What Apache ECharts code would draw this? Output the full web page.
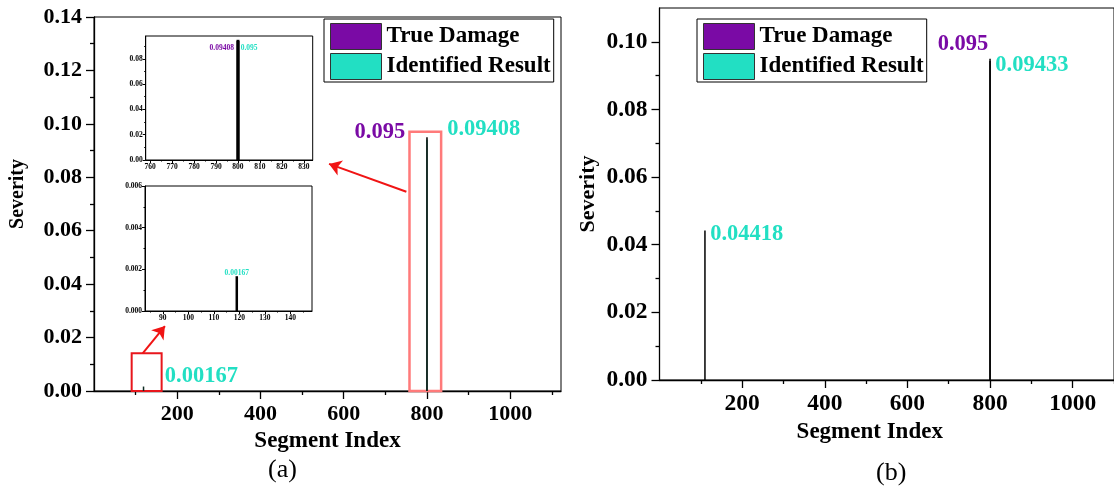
<!DOCTYPE html>
<html>
<head>
<meta charset="utf-8">
<script src="https://cdn.jsdelivr.net/npm/echarts@6/dist/echarts.min.js"></script>
<style>
  html, body { margin: 0; padding: 0; background: #fff; }
  #chart { width: 1114px; height: 493px; }
</style>
</head>
<body>
<div id="chart"></div>
<script>
// Severity at each damaged segment
const seriesNames = ['True Damage', 'Identified Result'];
const trueDamageA = [[800, 0.095]];
const identifiedA = [[119, 0.00167], [800, 0.09408]];
const trueDamageB = [[800, 0.095]];
const identifiedB = [[110, 0.04418], [800, 0.09433]];

// axis extents and ticks
const xRangeA = [0, 1122];
const xRangeB = [0, 1100];
const xTicksMain = [200, 400, 600, 800, 1000];
const xMinorMain = [100, 300, 500, 700, 900, 1100];
const yRangeA = [0, 0.14];
const yTicksA = [0, 0.02, 0.04, 0.06, 0.08, 0.10, 0.12, 0.14];
const yMinorA = [0.01, 0.03, 0.05, 0.07, 0.09, 0.11, 0.13];
const yRangeB = [0, 0.11];
const yTicksB = [0, 0.02, 0.04, 0.06, 0.08, 0.10];
const yMinorB = [0.01, 0.03, 0.05, 0.07, 0.09];

// zoomed insets of panel (a)
const xRangeTop = [758, 834];
const xTicksTop = [760, 770, 780, 790, 800, 810, 820, 830];
const xMinorTop = [765, 775, 785, 795, 805, 815, 825];
const yRangeTop = [0, 0.098];
const yTicksTop = [0, 0.02, 0.04, 0.06, 0.08];
const yMinorTop = [0.01, 0.03, 0.05, 0.07, 0.09];
const xRangeBot = [83, 148.5];
const xTicksBot = [90, 100, 110, 120, 130, 140];
const xMinorBot = [85, 95, 105, 115, 125, 135, 145];
const yRangeBot = [0, 0.006];
const yTicksBot = [0, 0.002, 0.004, 0.006];
const yMinorBot = [0.001, 0.003, 0.005];

// highlight boxes [x0, x1, y0, y1] and arrows [x0, y0, x1, y1] in panel (a) data units
const zoomBoxes = [[758, 834, 0, 0.097], [90.5, 162.5, 0, 0.0141]];
const zoomArrows = [[750.5, 0.0746, 564.7, 0.085], [116.9, 0.0141, 170.4, 0.0243]];

const FONT = "'Liberation Serif', 'Times New Roman', serif";
const PURPLE = '#7a0aa5';
const CYAN = '#22dfc3';

// major axis + a silent twin that only draws the minor ticks
function axisPair(dim, gridIndex, range, majors, minors, o) {
    const pos = dim === 'x' ? 'bottom' : 'left';
    const major = {
        type: 'value', gridIndex: gridIndex, position: pos,
        min: range[0], max: range[1],
        axisLine: { show: true, onZero: false, lineStyle: { color: '#000', width: o.lineWidth } },
        axisTick: { show: true, inside: false, length: o.tick, customValues: majors,
            lineStyle: { color: '#000', width: o.lineWidth } },
        axisLabel: {
            customValues: o.labels || majors,
            formatter: o.fmt,
            fontFamily: FONT, fontWeight: 'bold', fontSize: o.fontSize, color: '#000',
            margin: o.margin
        },
        splitLine: { show: false }
    };
    if (o.name) {
        major.name = o.name;
        major.nameLocation = 'middle';
        major.nameGap = o.nameGap;
        major.nameTextStyle = { fontFamily: FONT, fontWeight: 'bold', fontSize: o.nameSize,
            color: '#000', padding: o.namePadding || 0 };
    }
    const minor = {
        type: 'value', gridIndex: gridIndex, position: pos,
        min: range[0], max: range[1],
        axisLine: { show: false, onZero: false },
        axisTick: { show: true, inside: false, length: o.minorTick, customValues: minors,
            lineStyle: { color: '#000', width: o.lineWidth } },
        axisLabel: { show: false },
        splitLine: { show: false }
    };
    return [major, minor];
}

function bar(name, axisIndex, data, color, width, labels) {
    return {
        name: name, type: 'bar',
        xAxisIndex: axisIndex, yAxisIndex: axisIndex,
        barWidth: width, barGap: '-100%',
        itemStyle: { color: color },
        emphasis: { disabled: true },
        clip: true,
        data: data.map(function (pt) {
            const lb = labels[pt[0]];
            if (!lb) return { value: pt, label: { show: false } };
            return {
                value: pt,
                label: Object.assign({
                    show: true, fontFamily: FONT, fontWeight: 'bold',
                    verticalAlign: 'middle',
                    formatter: function (p) { return String(p.value[1]); }
                }, lb)
            };
        })
    };
}

const fmt2 = function (v) { return v.toFixed(2); };
const fmt3 = function (v) { return v.toFixed(3); };
const fmtInt = function (v) { return String(Math.round(v)); };

const mainText = { lineWidth: 1.3, tick: 8, minorTick: 4, margin: 12 };
const insetText = { lineWidth: 1, tick: 3, minorTick: 1.5, margin: 3, fontSize: 7.5 };

const xA = axisPair('x', 0, xRangeA, xTicksMain, xMinorMain, Object.assign({}, mainText,
    { fontSize: 22, fmt: fmtInt, name: 'Segment Index', nameGap: 39, nameSize: 23 }));
const yA = axisPair('y', 0, yRangeA, yTicksA, yMinorA, Object.assign({}, mainText,
    { fontSize: 22, fmt: fmt2, name: 'Severity', nameGap: 66, nameSize: 20, namePadding: [0, 0, 0, 20] }));
const xB = axisPair('x', 1, xRangeB, xTicksMain, xMinorMain, Object.assign({}, mainText,
    { fontSize: 23.5, fmt: fmtInt, name: 'Segment Index', nameGap: 40, nameSize: 23, namePadding: [0, 34, 0, 0] }));
const yB = axisPair('y', 1, yRangeB, yTicksB, yMinorB, Object.assign({}, mainText,
    { fontSize: 23.5, fmt: fmt2, name: 'Severity', nameGap: 60, nameSize: 22 }));
const xT = axisPair('x', 2, xRangeTop, xTicksTop, xMinorTop, Object.assign({}, insetText, { fmt: fmtInt }));
const yT = axisPair('y', 2, yRangeTop, yTicksTop, yMinorTop, Object.assign({}, insetText, { fmt: fmt2 }));
const xS = axisPair('x', 3, xRangeBot, xTicksBot, xMinorBot, Object.assign({}, insetText, { fmt: fmtInt }));
const yS = axisPair('y', 3, yRangeBot, yTicksBot, yMinorBot, Object.assign({}, insetText, { fmt: fmt3 }));

// axis index order: 0 main a, 2 main b, 4 inset top, 6 inset bottom (odd = minor twins)
const xAxes = [].concat(xA, xB, xT, xS);
const yAxes = [].concat(yA, yB, yT, yS);

const bigLabel = { fontSize: 22.5 };
const smallLabel = { fontSize: 7.5 };

const trueA = bar(seriesNames[0], 0, trueDamageA, '#000', 1.5, {
    800: Object.assign({ position: [-21, -5], align: 'right', color: PURPLE }, bigLabel)
});
trueA.markArea = {
    silent: true,
    label: { show: false },
    data: zoomBoxes.map(function (b, i) {
        return [{
            coord: [b[0], b[2]],
            itemStyle: i === 0
                ? { color: 'rgba(0,0,0,0)', borderColor: '#ff7a7a', borderWidth: 2.5 }
                : { color: 'rgba(0,0,0,0)', borderColor: '#e8161c', borderWidth: 2 }
        }, { coord: [b[1], b[3]] }];
    })
};
trueA.markLine = {
    silent: true,
    symbol: ['none', 'arrow'],
    symbolSize: 12,
    label: { show: false },
    lineStyle: { color: '#f01414', width: 2, type: 'solid' },
    data: zoomArrows.map(function (a) {
        return [{ coord: [a[0], a[1]] }, { coord: [a[2], a[3]] }];
    })
};

const identA = bar(seriesNames[1], 0, identifiedA, '#0e2a22', 1.5, {
    800: Object.assign({ position: [21, -10], align: 'left', color: CYAN }, bigLabel),
    119: Object.assign({ position: [22, -10], align: 'left', color: CYAN }, bigLabel)
});

const trueB = bar(seriesNames[0], 2, trueDamageB, '#000', 1.5, {
    800: Object.assign({ position: [-1, -15], align: 'right', color: PURPLE }, bigLabel)
});
const identB = bar(seriesNames[1], 2, identifiedB, '#000', 1.5, {
    800: Object.assign({ position: [6, 4], align: 'left', color: CYAN }, bigLabel),
    110: Object.assign({ position: [6, 4], align: 'left', color: CYAN }, bigLabel)
});

const trueTop = bar(seriesNames[0], 4, trueDamageA, '#000', 3, {
    800: Object.assign({ position: [4.2, 8], align: 'left', color: CYAN }, smallLabel)
});
const identTop = bar(seriesNames[1], 4, identifiedA, '#000', 3, {
    800: Object.assign({ position: [-2.5, 6.7], align: 'right', color: PURPLE }, smallLabel)
});
const identBot = bar(seriesNames[1], 6, identifiedA, '#000', 2.5, {
    119: Object.assign({ position: 'top', distance: 3, color: CYAN }, smallLabel)
});

function legendAt(left) {
    return {
        left: left, top: 19, orient: 'vertical',
        icon: 'rect', itemWidth: 51, itemHeight: 26, itemGap: 3,
        padding: [4, 3, 2, 6],
        borderColor: '#000', borderWidth: 1, backgroundColor: '#fff',
        selectedMode: false,
        itemStyle: { borderColor: '#333', borderWidth: 1 },
        textStyle: { fontFamily: FONT, fontSize: 23, fontWeight: 'bold', color: '#000' },
        data: [
            { name: seriesNames[0], itemStyle: { color: PURPLE } },
            { name: seriesNames[1], itemStyle: { color: CYAN } }
        ]
    };
}

const frame = { show: true, borderColor: '#000', borderWidth: 1, backgroundColor: 'rgba(0,0,0,0)' };

const chart = echarts.init(document.getElementById('chart'), null, { renderer: 'canvas' });
chart.setOption({
    animation: false,
    backgroundColor: '#fff',
    grid: [
        Object.assign({ left: 94, top: 17, width: 467, height: 374 }, frame),
        Object.assign({ left: 659.5, top: 8, width: 455, height: 372 }, frame),
        Object.assign({ left: 145.7, top: 36, width: 167, height: 124 }, frame, { backgroundColor: '#fff' }),
        Object.assign({ left: 145, top: 186, width: 167, height: 125 }, frame, { backgroundColor: '#fff' })
    ],
    xAxis: xAxes,
    yAxis: yAxes,
    legend: [legendAt(324), legendAt(697)],
    graphic: [
        { type: 'text', left: 268, top: 457, style: { text: '(a)', font: '26px ' + FONT, fill: '#000' } },
        { type: 'text', left: 876, top: 460, style: { text: '(b)', font: '26px ' + FONT, fill: '#000' } }
    ],
    series: [trueA, identA, trueB, identB, trueTop, identTop, identBot]
});
</script>
</body>
</html>
